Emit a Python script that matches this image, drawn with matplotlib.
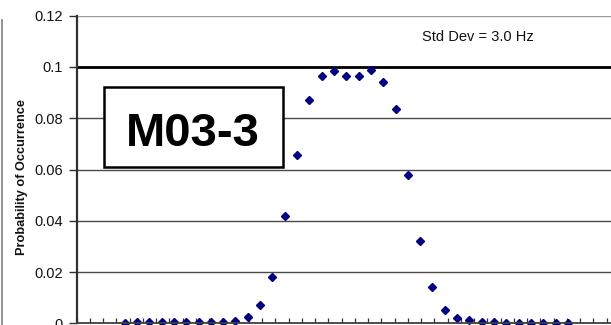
import numpy as np
import matplotlib
matplotlib.use("Agg")
import matplotlib.pyplot as plt
from matplotlib.lines import Line2D
from matplotlib.patches import Rectangle
from matplotlib import font_manager

plt.rcParams['font.family'] = ['Liberation Sans', 'DejaVu Sans']

# sample index (x) and probability values
sample_idx = list(range(37))
probability = [0.0002, 0.0004, 0.0004, 0.0004, 0.0004, 0.0004, 0.0004, 0.0006,
               0.0006, 0.0009, 0.0023, 0.0071, 0.018, 0.042, 0.0657, 0.0873,
               0.0963, 0.0984, 0.0965, 0.0965, 0.0988, 0.0941, 0.0837, 0.0578,
               0.032, 0.014, 0.0051, 0.0022, 0.0013, 0.0005, 0.0004, 0.0003,
               0.0002, 0.0002, 0.0001, 0.0001, 0.0001]
y_ticks = [0, 0.02, 0.04, 0.06, 0.08, 0.1, 0.12]
y_tick_labels = ["0", "0.02", "0.04", "0.06", "0.08", "0.1", "0.12"]
y_label = "Probability of Occurrence"
box_label = "M03-3"
note = "Std Dev = 3.0 Hz"

W, H = 611, 325
fig = plt.figure(figsize=(W / 100, H / 100), dpi=100)
fig.patch.set_facecolor("white")

left_px, top_px, bottom_px, right_px = 76.7, 15.7, 323.3, 625
ax = fig.add_axes([left_px / W, (H - bottom_px) / H,
                   (right_px - left_px) / W, (bottom_px - top_px) / H])
x_left = -3.9
x_step_px = 12.31
x_right = x_left + (right_px - left_px) / x_step_px

# gridlines
for v in y_ticks[1:]:
    if v == 0.1:
        ax.axhline(v, color="black", lw=2.0, zorder=1)
    elif v == 0.12:
        ax.axhline(v, color="#9a9a9a", lw=1.0, zorder=1)
    else:
        ax.axhline(v, color="#4a4a4a", lw=1.0, zorder=1)

ax.plot(sample_idx, probability, linestyle="none", marker="D",
        markersize=3.8, color="#000080", zorder=3, clip_on=False)

for s in ["top", "right"]:
    ax.spines[s].set_visible(False)
ax.spines["left"].set_color("#303030")
ax.spines["left"].set_linewidth(1.6)
ax.spines["bottom"].set_color("#404040")
ax.spines["bottom"].set_linewidth(1.3)
ax.spines["bottom"].set_zorder(4)

ax.set_yticks(y_ticks)
ax.set_yticklabels(y_tick_labels)
ax.tick_params(axis="y", direction="out", length=6, width=1, color="#303030",
               labelsize=10.5, pad=4, labelcolor="#111111")
xt = np.arange(x_left, x_right, 13.25 / x_step_px)
ax.set_xticks(xt)
ax.tick_params(axis="x", direction="in", length=3.5, width=0.9,
               color="#303030", labelbottom=False)
ax.set_xlim(x_left, x_right)
ax.set_ylim(0, 0.12)

fig.text(22 / W, 1 - 176.5 / H, y_label, rotation=90, ha="center",
         va="center", fontsize=9.2, fontweight="bold", color="#111111")

# label box
bx0, by0, bx1, by1 = 104, 87.5, 282.5, 167
fig.add_artist(Rectangle((bx0 / W, 1 - by1 / H), (bx1 - bx0) / W,
                         (by1 - by0) / H, transform=fig.transFigure,
                         facecolor="white", edgecolor="black", lw=1.8,
                         zorder=5))
names = {f.name for f in font_manager.fontManager.ttflist}
if "Liberation Sans Narrow" in names:
    box_font, box_size = ["Liberation Sans Narrow", "DejaVu Sans"], 38
else:
    box_font, box_size = ["Liberation Sans", "DejaVu Sans"], 34
fig.text((bx0 + bx1) / 2 / W, 1 - 129.5 / H, box_label,
         ha="center", va="center_baseline", fontsize=box_size,
         fontweight="bold", family=box_font, color="black", zorder=6)

fig.text(422 / W, 1 - 36.7 / H, note, ha="left", va="center",
         fontsize=10.5, color="#111111")

# left border line
fig.add_artist(Line2D([2 / W, 2 / W], [0, 1 - 20 / H],
                      transform=fig.transFigure, color="#8a8a8a", lw=1.3))

fig.savefig("out.png", dpi=100)
